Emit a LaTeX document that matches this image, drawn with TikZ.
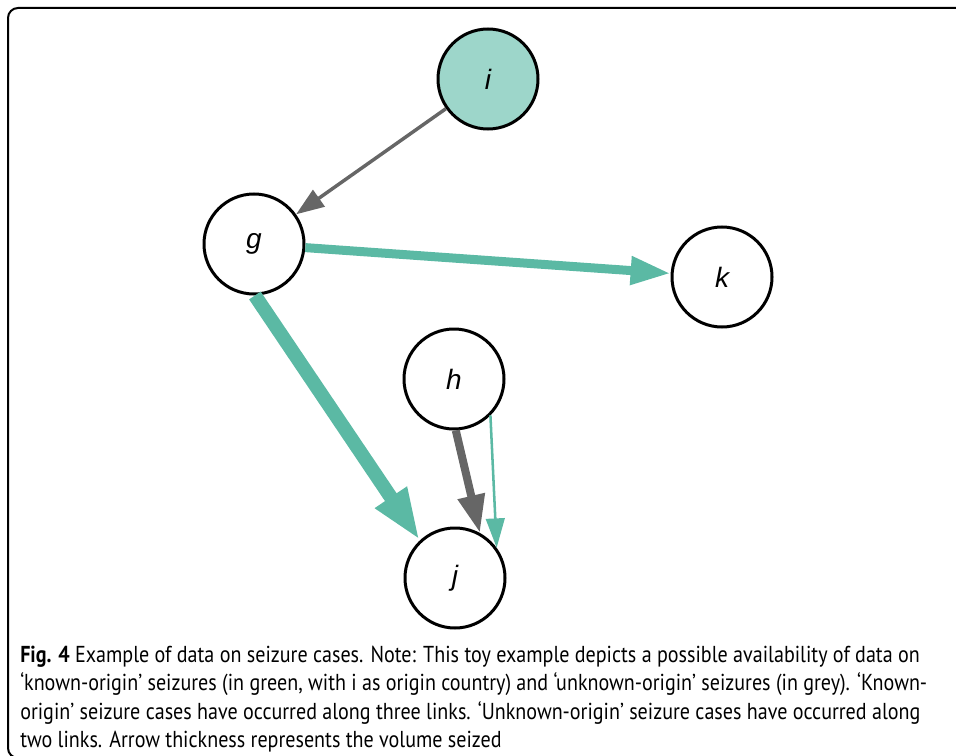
\documentclass[tikz,border=0pt]{standalone}
\usepackage{fontspec}
\setmainfont{Liberation Sans}
\newfontfamily\captionfont[FakeStretch=0.87]{PT Sans}
\usetikzlibrary{arrows.meta}

\definecolor{origingreen}{HTML}{9DD6CA}
\definecolor{knowngreen}{HTML}{5BB9A4}
\definecolor{unknowngrey}{HTML}{666666}

\tikzset{
  country/.style={circle, draw, line width=2.25pt, fill=white, minimum size=75pt, inner sep=0pt, font=\fontsize{21}{25}\selectfont\itshape},
  known/.style={draw=knowngreen, fill=knowngreen},
  unknown/.style={draw=unknowngrey, fill=unknowngrey},
  captionline/.style={anchor=base west, inner sep=0pt, font=\captionfont\fontsize{17.3}{20}\selectfont}
}

\begin{document}
\begin{tikzpicture}[x=0.75pt, y=-0.75pt]
  \clip (0, 0) rectangle (956, 756);
  % Frame
  \draw[line width=1.5pt, rounded corners=7.5pt] (1000, 8) -- (8, 8) -- (8, 758) -- (1000, 758);
  % Nodes
  \node (i) [country, fill=origingreen] at (488, 79) {i};
  \node (g) [country] at (254, 244) {g};
  \node (k) [country] at (722, 277) {k};
  \node (h) [country] at (454, 379) {h};
  \node (j) [country] at (455, 578) {j};
  % Arrows
  \draw[unknown, line width=2.6pt, -{Triangle[length=21pt, width=15pt]}] (i) -- (g);
  \draw[known, line width=6.75pt, -{Triangle[length=30pt, width=20pt]}] (g) -- (k);
  \draw[known, line width=10.5pt, -{Triangle[length=39pt, width=26pt]}] (g.-89) -- (j.133);
  \draw[unknown, line width=6pt, -{Triangle[length=28.5pt, width=19.5pt]}] (h.-88) -- (j.61);
  \draw[known, line width=1.9pt, -{Triangle[length=22pt, width=14pt]}] (h.-45) -- (j.36);
  % Caption
  \node (caption-1) [captionline] at (20, 662) {\textbf{Fig. 4} Example of data on seizure cases. Note: This toy example depicts a possible availability of data on};
  \node (caption-2) [captionline] at (20, 690) {‘known-origin’ seizures (in green, with i as origin country) and ‘unknown-origin’ seizures (in grey). ‘Known-};
  \node (caption-3) [captionline] at (20, 719) {origin’ seizure cases have occurred along three links. ‘Unknown-origin’ seizure cases have occurred along};
  \node (caption-4) [captionline] at (20, 747) {two links. Arrow thickness represents the volume seized};
\end{tikzpicture}
\end{document}
